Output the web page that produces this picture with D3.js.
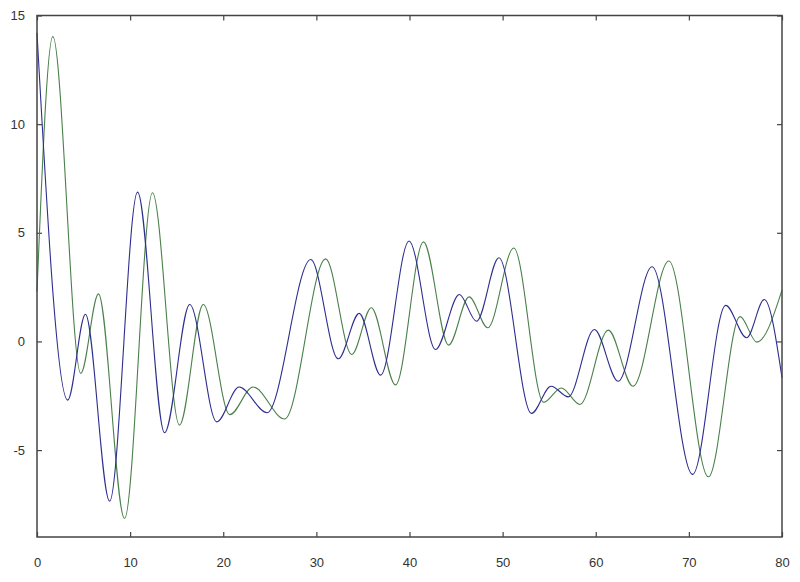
<!DOCTYPE html>
<html>
<head>
<meta charset="utf-8">
<script src="https://cdn.jsdelivr.net/npm/d3@7"></script>
<style>
  body { margin: 0; background: #fff; }
  .tick text { font-family: "Liberation Sans", Arial, sans-serif; font-size: 13px; fill: #333; }
  .tick line { stroke: #444; stroke-width: 1.2; }
</style>
</head>
<body>
<svg width="800" height="582"></svg>
<script>
// values (turning points of each curve)
const blueX = [0, 3.3, 5.2, 7.8, 10.8, 13.7, 16.4, 19.3, 21.7, 24.7, 29.4, 32.35, 34.6, 36.9, 39.95, 42.8, 45.35, 47.2, 49.6, 53.1, 55.2, 57.05, 59.85, 62.4, 66.05, 70.4, 73.95, 76.2, 78.1, 80];
const blueY = [14.2, -2.7, 1.25, -7.35, 6.87, -4.2, 1.7, -3.7, -2.1, -3.28, 3.77, -0.8, 1.29, -1.55, 4.62, -0.37, 2.16, 0.93, 3.85, -3.31, -2.06, -2.55, 0.55, -1.83, 3.44, -6.12, 1.66, 0.17, 1.93, -1.67];

const greenX = [0, 1.7, 4.7, 6.6, 9.4, 12.4, 15.3, 17.85, 20.7, 23.2, 26.6, 31.0, 33.8, 35.9, 38.5, 41.5, 44.2, 46.4, 48.4, 51.2, 54.4, 56.3, 58.3, 61.35, 64.0, 67.85, 72.1, 75.5, 77.3, 80];
const greenY = [2.3, 14.03, -1.47, 2.19, -8.15, 6.84, -3.85, 1.7, -3.37, -2.1, -3.57, 3.8, -0.6, 1.55, -2.0, 4.58, -0.17, 2.05, 0.63, 4.3, -2.8, -2.14, -2.9, 0.52, -2.06, 3.7, -6.23, 1.14, -0.03, 2.36];

const xTicks = [0, 10, 20, 30, 40, 50, 60, 70, 80];
const yTicks = [-5, 0, 5, 10, 15];

const svg = d3.select("svg");
const margin = {top: 15.5, right: 18, bottom: 45, left: 37};
const width = +svg.attr("width") - margin.left - margin.right;
const height = +svg.attr("height") - margin.top - margin.bottom;

const g = svg.append("g").attr("transform", `translate(${margin.left},${margin.top})`);

const x = d3.scaleLinear().domain([0, 80]).range([0, width]);
const y = d3.scaleLinear().domain([-9, 15]).range([height, 0]);

// plain hyphen for negatives, like the original
const fmt = d => String(d);

// inward ticks on all four sides, labels only left and bottom
g.append("g")
  .attr("transform", `translate(0,${height})`)
  .call(d3.axisBottom(x).tickValues(xTicks).tickSize(-5).tickPadding(21).tickFormat(fmt))
  .call(a => a.select(".domain").remove());

g.append("g")
  .call(d3.axisTop(x).tickValues(xTicks).tickSize(-5).tickFormat(""))
  .call(a => a.select(".domain").remove());

g.append("g")
  .call(d3.axisLeft(y).tickValues(yTicks).tickSize(-5).tickPadding(12).tickFormat(fmt))
  .call(a => a.select(".domain").remove());

g.append("g")
  .attr("transform", `translate(${width},0)`)
  .call(d3.axisRight(y).tickValues(yTicks).tickSize(-5).tickFormat(""))
  .call(a => a.select(".domain").remove());

const line = d3.line()
  .x(d => x(d[0]))
  .y(d => y(d[1]))
  .curve(d3.curveMonotoneX);

g.append("path")
  .datum(greenX.map((v, i) => [v, greenY[i]]))
  .attr("fill", "none")
  .attr("stroke", "#4a804a")
  .attr("stroke-width", 1.1)
  .attr("d", line);

g.append("path")
  .datum(blueX.map((v, i) => [v, blueY[i]]))
  .attr("fill", "none")
  .attr("stroke", "#2e2e8e")
  .attr("stroke-width", 1.1)
  .attr("d", line);

// frame
g.append("rect")
  .attr("width", width)
  .attr("height", height)
  .attr("fill", "none")
  .attr("stroke", "#444")
  .attr("stroke-width", 1.5);
</script>
</body>
</html>
